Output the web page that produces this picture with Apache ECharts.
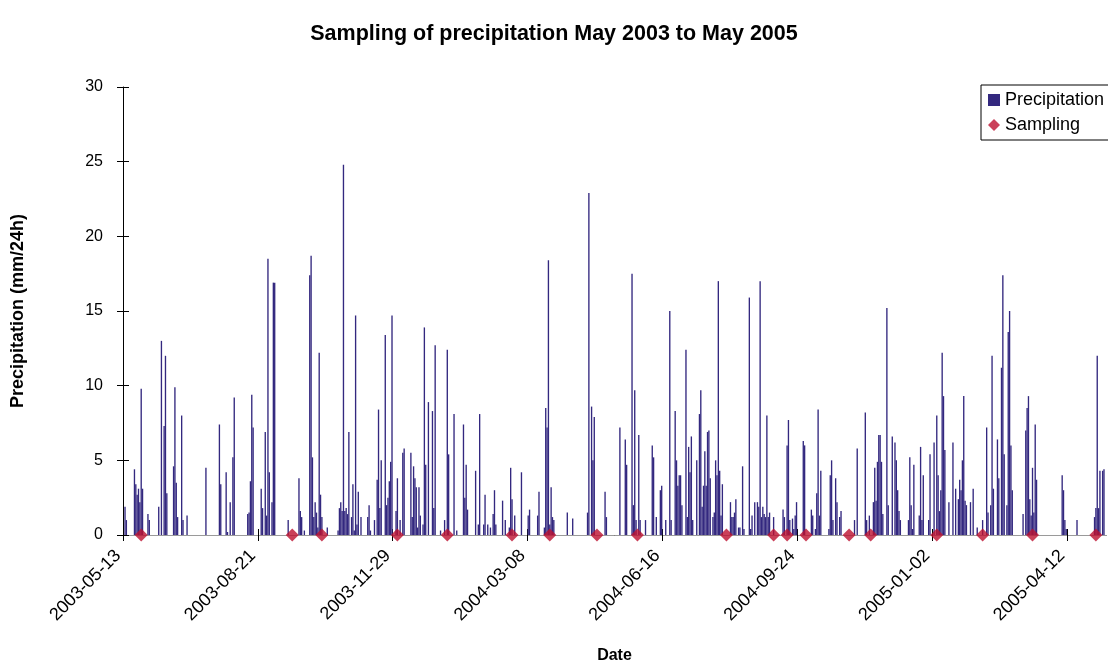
<!DOCTYPE html>
<html>
<head>
<meta charset="utf-8">
<title>Sampling of precipitation May 2003 to May 2005</title>
<script src="https://cdn.jsdelivr.net/npm/echarts@6/dist/echarts.min.js"></script>
<style>
  html, body { margin: 0; padding: 0; background: #fff; overflow: hidden; }
  #chart { width: 1108px; height: 669px; }
</style>
</head>
<body>
<div id="chart"></div>
<script>
// Daily precipitation record, counted in days from the first day of the series.
const startDate = '2003-05-13';
const lastDay = 729;

const tickLabels = ['2003-05-13', '2003-08-21', '2003-11-29', '2004-03-08',
                    '2004-06-16', '2004-09-24', '2005-01-02', '2005-04-12'];

// Days (since startDate) with measurable precipitation
const rainDay = [
  1, 2, 8, 9, 10, 11, 12, 13, 14, 18, 19, 26, 28, 30, 31, 32, 37, 38, 39, 40, 43, 44, 47,
  61, 71, 72, 76, 77, 79, 81, 82, 92, 93, 94, 95, 96, 102, 103, 105, 106, 107, 108, 110, 111, 112, 122,
  130, 131, 132, 134, 138, 139, 140, 141, 142, 143, 144, 145, 146, 147, 151, 159, 160, 161, 162, 163,
  164, 165, 166, 167, 169, 170, 171, 172, 173, 174, 176, 181, 182, 183,
  186, 188, 189, 190, 191, 194, 195, 196, 197, 198, 199, 202, 203, 205, 207, 208, 213, 214, 215, 216,
  217, 218, 219, 220, 222, 223, 224, 226, 229, 230, 231, 235, 238, 240, 241,
  245, 247, 252, 253, 254, 255, 261, 263, 264, 267, 268, 270, 272, 274, 275, 276, 281, 283, 286, 287,
  288, 290, 295, 300, 301,
  307, 308, 312, 313, 314, 315, 316, 317, 318, 319, 329, 333, 344, 345, 347, 348, 349, 357, 358,
  368, 372, 373, 377, 378, 379, 380, 382, 383, 387, 392, 393, 395, 398, 399, 402, 405, 406, 409, 410,
  411, 412, 413, 414, 417, 418, 419, 420, 421, 422, 425, 427,
  428, 429, 430, 431, 432, 433, 434, 435, 437, 438, 439, 440, 441, 442, 443, 444, 450, 451, 452, 453,
  454, 456, 457, 459, 460, 464, 465, 466, 468, 470, 471, 472, 473, 474, 475, 476, 477, 478, 479, 482,
  489, 490, 492, 493, 494, 496, 497, 498, 499, 504, 505, 510, 511, 513, 514, 515, 516, 517, 523, 524,
  525, 526, 528, 529, 531, 532, 542, 544,
  550, 551, 553, 556, 557, 558, 559, 560, 561, 562, 563, 566, 567, 570, 572, 573, 574, 575, 576, 582,
  583, 584, 585, 586, 590, 591, 592, 593, 597, 598, 601, 603, 604, 605, 606, 607, 608, 609,
  612, 615, 617, 619, 620, 621, 622, 623, 624, 625, 628, 630, 633, 637, 640, 641, 643, 644, 645, 648,
  649, 651, 652, 653, 655, 656, 657, 658, 659, 667, 669, 670,
  671, 672, 673, 674, 675, 676, 677, 696, 697, 698, 699, 707, 720, 721, 722, 723, 724, 726, 727
];

// Precipitation on those days (mm/24h)
const rainMm = [
  1.9, 1.0, 4.4, 3.4, 2.7, 3.1, 2.2, 9.8, 3.1, 1.4, 1.0, 1.9, 13.0, 7.3, 12.0, 2.8, 4.6, 9.9, 3.5, 1.2, 8.0, 1.0, 1.3,
  4.5, 7.4, 3.4, 4.2, 0.2, 2.2, 5.2, 9.2, 1.4, 1.5, 3.6, 9.4, 7.2, 3.1, 1.8, 6.9, 1.3, 18.5, 4.2, 2.2, 16.9, 16.9, 1.0,
  3.8, 1.6, 1.2, 0.3, 17.4, 18.7, 5.2, 1.2, 2.2, 1.5, 0.5, 12.2, 2.7, 1.2, 0.5, 0.3, 1.8, 2.2, 1.6, 24.8,
  1.6, 1.8, 1.4, 6.9, 1.2, 3.4, 0.3, 14.7, 0.7, 2.9, 1.2, 1.2, 2.0, 0.3,
  1.0, 3.7, 8.4, 1.8, 5.0, 13.4, 2.0, 2.5, 3.6, 4.9, 14.7, 1.6, 3.8, 1.0, 5.5, 5.8, 5.5, 1.2, 4.6, 3.8,
  3.2, 0.5, 3.2, 1.3, 0.7, 13.9, 4.7, 8.9, 8.3, 1.8, 12.7, 0.3, 1.0, 12.4, 5.4,
  8.1, 0.3, 7.4, 2.5, 4.7, 1.7, 4.3, 0.7, 8.1, 0.7, 2.7, 0.7, 0.5, 1.4, 3.0, 0.7, 2.3, 1.0, 0.5, 4.5,
  2.4, 1.3, 4.2, 1.3, 1.7,
  1.3, 2.9, 0.5, 8.5, 7.2, 18.4, 0.7, 3.2, 1.2, 1.0, 1.5, 1.1, 1.5, 22.9, 8.6, 5.0, 7.9, 2.9, 1.2,
  7.2, 6.4, 4.7, 17.5, 2.0, 9.7, 1.0, 6.7, 1.0, 1.0, 6.0, 5.2, 1.2, 3.0, 3.3, 1.0, 15.0, 1.0, 8.3, 5.0,
  3.3, 4.0, 4.0, 2.0, 12.4, 1.2, 5.9, 4.2, 6.6, 1.0, 5.0, 8.1,
  9.7, 1.9, 3.3, 5.6, 3.3, 6.9, 7.0, 3.8, 1.2, 1.5, 5.0, 4.0, 17.0, 4.3, 1.3, 3.4, 2.2, 1.2, 1.2, 1.5,
  2.4, 0.5, 0.5, 4.6, 0.4, 15.9, 0.4, 1.3, 2.2, 2.2, 1.9, 17.0, 1.2, 1.9, 1.4, 1.2, 8.0, 1.2, 1.5, 1.2,
  1.7, 1.2, 6.0, 7.7, 1.0, 1.1, 0.4, 1.3, 2.2, 6.3, 6.0, 1.7, 1.3, 0.4, 2.8, 8.4, 1.3, 4.3, 0.4, 4.0,
  5.0, 1.0, 3.8, 2.2, 1.2, 1.6, 1.0, 5.8,
  8.2, 1.0, 1.3, 2.2, 4.5, 2.3, 4.9, 6.7, 6.7, 4.9, 1.4, 15.2, 2.0, 6.6, 6.2, 5.0, 3.0, 1.6, 1.0, 1.0,
  5.2, 2.0, 0.4, 4.7, 1.3, 5.9, 1.0, 4.0, 1.0, 5.4, 6.2, 8.0, 4.0, 1.6, 3.0, 12.2, 9.3, 5.7,
  2.2, 6.2, 3.1, 2.4, 3.7, 3.0, 5.0, 9.3, 2.3, 2.0, 2.2, 3.1, 0.5, 1.0, 7.2, 1.5, 2.0, 12.0, 3.1, 6.4,
  3.8, 11.2, 17.4, 5.4, 2.0, 13.6, 15.0, 6.0, 3.0, 1.4, 7.0, 8.5,
  9.3, 2.4, 1.3, 4.5, 1.5, 7.4, 3.7, 4.0, 3.0, 1.0, 0.4, 1.0, 1.2, 1.8, 12.0, 1.8, 4.3, 4.3, 4.4
];

// Days (since startDate) on which samples were taken
const samplingDay = [13, 125, 147, 203, 240, 288, 316, 351, 381, 447, 482, 492, 506, 538, 554, 603, 637, 674, 721];

const DAY_MS = 86400000;
const startMs = Date.parse(startDate + 'T00:00:00Z');
const dayOf = s => Math.round((Date.parse(s + 'T00:00:00Z') - startMs) / DAY_MS);
const dateOf = d => new Date(startMs + d * DAY_MS).toISOString().slice(0, 10);
const tickDays = tickLabels.map(dayOf);

// Each day's mark sits in the middle of its one-day slot
const precipData = rainDay.map((d, i) => [d + 0.5, rainMm[i]]);
const samplingData = samplingDay.map(d => [d + 0.5, 0]);

const FONT = '"Liberation Sans", Arial, sans-serif';
const INK = '#000';

// Plain axis used only to draw the inner half of the crossing tick marks
const innerTicks = (extra) => Object.assign({
  axisLine: { show: false },
  axisTick: { show: true, inside: true, length: 6, lineStyle: { color: INK } },
  axisLabel: { show: false },
  splitLine: { show: false }
}, extra);

const chart = echarts.init(document.getElementById('chart'), null, { renderer: 'canvas' });
chart.setOption({
  animation: false,
  backgroundColor: '#ffffff',
  textStyle: { fontFamily: FONT, color: INK },
  title: {
    text: 'Sampling of precipitation May 2003 to May 2005',
    left: 'center',
    top: 18,
    textStyle: { fontFamily: FONT, fontSize: 21.5, fontWeight: 'bold', color: INK }
  },
  legend: {
    orient: 'vertical',
    left: 981,
    top: 85,
    padding: [6, 30, 6, 7],
    itemGap: 7,
    itemWidth: 12,
    itemHeight: 12,
    borderColor: INK,
    borderWidth: 1,
    textStyle: { fontFamily: FONT, fontSize: 18, color: INK },
    data: [
      { name: 'Precipitation', icon: 'rect' },
      { name: 'Sampling', icon: 'diamond' }
    ]
  },
  grid: { left: 123, width: 983, top: 87, height: 453, containLabel: false },
  xAxis: [
    {
      type: 'value',
      min: 0,
      max: lastDay,
      name: 'Date',
      nameLocation: 'middle',
      nameGap: 113,
      nameTextStyle: { fontFamily: FONT, fontSize: 16, fontWeight: 'bold', color: INK },
      axisLine: { lineStyle: { color: INK, width: 1 } },
      axisTick: { show: true, length: 6, customValues: tickDays, lineStyle: { color: INK } },
      axisLabel: {
        rotate: 45,
        margin: 13,
        padding: [0, 7, 0, 0],
        fontSize: 18,
        fontFamily: FONT,
        color: INK,
        customValues: tickDays,
        formatter: v => dateOf(v)
      },
      splitLine: { show: false }
    },
    {
      // plot-area top border
      type: 'value',
      position: 'top',
      min: 0,
      max: lastDay,
      axisLine: { lineStyle: { color: '#9a9a9a', width: 1 } },
      axisTick: { show: false },
      axisLabel: { show: false },
      splitLine: { show: false }
    },
    innerTicks({
      type: 'value',
      position: 'bottom',
      min: 0,
      max: lastDay,
      axisTick: { show: true, inside: true, length: 6, customValues: tickDays, lineStyle: { color: INK } }
    })
  ],
  yAxis: [
    {
      type: 'value',
      min: 0,
      max: 30,
      interval: 5,
      name: 'Precipitation (mm/24h)',
      nameLocation: 'middle',
      nameGap: 96,
      nameTextStyle: { fontFamily: FONT, fontSize: 18, fontWeight: 'bold', color: INK },
      axisLine: { show: true, lineStyle: { color: INK, width: 1 } },
      axisTick: { show: true, length: 6, lineStyle: { color: INK } },
      axisLabel: { margin: 20, fontSize: 16, fontFamily: FONT, color: INK },
      splitLine: { show: false }
    },
    innerTicks({ type: 'value', position: 'left', min: 0, max: 30, interval: 5 })
  ],
  series: [
    {
      name: 'Precipitation',
      type: 'bar',
      xAxisIndex: 0,
      yAxisIndex: 0,
      barWidth: 1.35,
      itemStyle: { color: '#33287f' },
      data: precipData
    },
    {
      name: 'Sampling',
      type: 'scatter',
      xAxisIndex: 0,
      yAxisIndex: 0,
      symbol: 'diamond',
      symbolSize: [13, 13],
      clip: false,
      itemStyle: { color: '#bd1030' },
      z: 5,
      data: samplingData
    }
  ]
});
</script>
</body>
</html>
